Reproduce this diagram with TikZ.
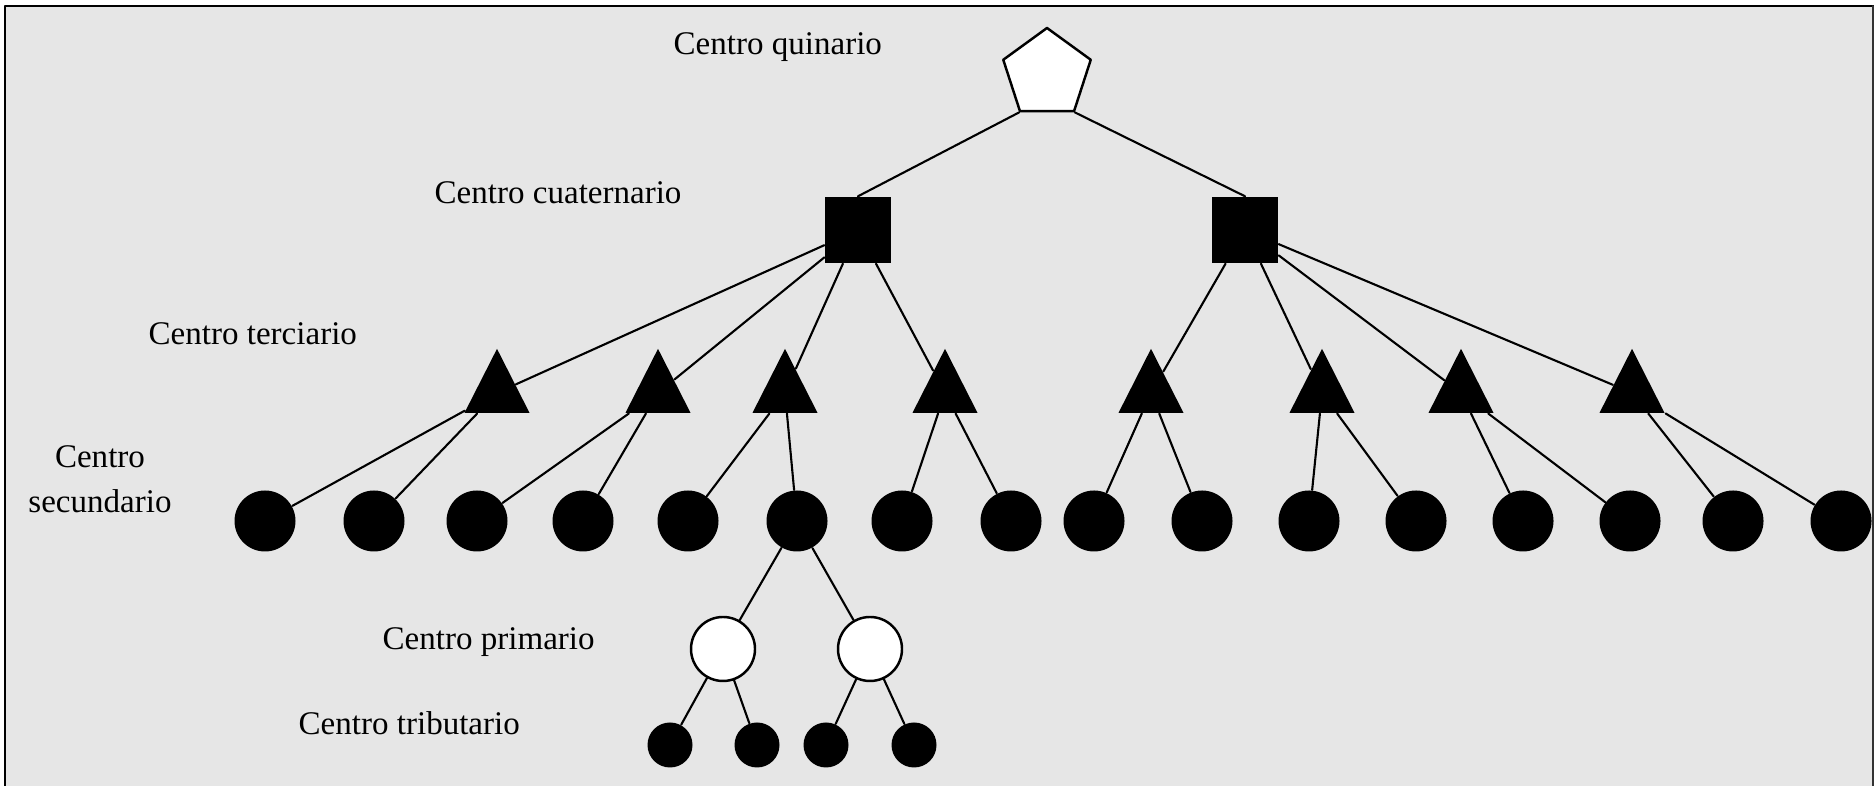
\documentclass[tikz,border=0pt]{standalone}
\usepackage{fontspec}
\setmainfont{Liberation Serif}
\usetikzlibrary{shapes.geometric}
\definecolor{fondo}{RGB}{230,230,230}

\begin{document}
\begin{tikzpicture}[line cap=round,line join=round,x=1.0cm,y=1.0cm,
  etiq/.style={inner sep=0pt,font=\fontsize{9.4}{12.7}\selectfont},
  quin/.style={regular polygon,regular polygon sides=5,draw,fill=white,line width=0.7pt,minimum size=0.92cm,inner sep=0pt},
  cuat/.style={rectangle,fill=black,minimum size=0.66cm,inner sep=0pt},
  terc/.style={isosceles triangle,isosceles triangle stretches,shape border rotate=90,fill=black,minimum width=0.65cm,minimum height=0.64cm,inner sep=0pt,anchor=apex},
  secu/.style={circle,fill=black,minimum size=0.61cm,inner sep=0pt},
  prim/.style={circle,draw,fill=white,line width=0.7pt,minimum size=0.64cm,inner sep=0pt},
  trib/.style={circle,fill=black,minimum size=0.45cm,inner sep=0pt},
  enl/.style={line width=0.6pt}]
\useasboundingbox (0,0) rectangle (18.74,7.86);
\fill[fondo] (0.05,0) rectangle (18.74,7.80);
\draw[line width=0.7pt] (0.05,0) -- (0.05,7.80) -- (18.74,7.80);
\draw[line width=0.5pt,black!80] (18.73,7.80) -- (18.73,0);
% etiquetas
\draw (6.73,7.31) node[etiq,anchor=base west] (lquin) {Centro quinario};
\draw (4.34,5.82) node[etiq,anchor=base west] (lcuat) {Centro cuaternario};
\draw (1.48,4.41) node[etiq,anchor=base west] (lterc) {Centro terciario};
\draw (1.00,3.41) node[etiq,anchor=north,align=center] (lsecu) {Centro\\secundario};
\draw (3.82,1.36) node[etiq,anchor=base west] (lprim) {Centro primario};
\draw (2.98,0.51) node[etiq,anchor=base west] (ltrib) {Centro tributario};
% centros
\node[quin] (quin) at (10.47,7.12) {};
\node[cuat] (cuaL) at (8.58,5.56) {};
\node[cuat] (cuaR) at (12.45,5.56) {};
\node[terc] (t1) at (4.97,4.39) {};
\node[terc] (t2) at (6.58,4.39) {};
\node[terc] (t3) at (7.85,4.39) {};
\node[terc] (t4) at (9.45,4.39) {};
\node[terc] (t5) at (11.51,4.39) {};
\node[terc] (t6) at (13.22,4.39) {};
\node[terc] (t7) at (14.61,4.39) {};
\node[terc] (t8) at (16.32,4.39) {};
\node[secu] (s1) at (2.65,2.65) {};
\node[secu] (s2) at (3.74,2.65) {};
\node[secu] (s3) at (4.77,2.65) {};
\node[secu] (s4) at (5.83,2.65) {};
\node[secu] (s5) at (6.88,2.65) {};
\node[secu] (s6) at (7.97,2.65) {};
\node[secu] (s7) at (9.02,2.65) {};
\node[secu] (s8) at (10.11,2.65) {};
\node[secu] (s9) at (10.94,2.65) {};
\node[secu] (s10) at (12.02,2.65) {};
\node[secu] (s11) at (13.09,2.65) {};
\node[secu] (s12) at (14.16,2.65) {};
\node[secu] (s13) at (15.23,2.65) {};
\node[secu] (s14) at (16.30,2.65) {};
\node[secu] (s15) at (17.33,2.65) {};
\node[secu] (s16) at (18.41,2.65) {};
\node[prim] (p1) at (7.23,1.37) {};
\node[prim] (p2) at (8.70,1.37) {};
\node[trib] (r1) at (6.70,0.41) {};
\node[trib] (r2) at (7.57,0.41) {};
\node[trib] (r3) at (8.26,0.41) {};
\node[trib] (r4) at (9.14,0.41) {};
% enlaces
\draw[enl] (quin.corner 3) -- (cuaL.north);
\draw[enl] (quin.corner 4) -- (cuaR.north);
\draw[enl] (cuaL) -- (t1);
\draw[enl] (cuaL) -- (t2);
\draw[enl] (cuaL) -- (t3);
\draw[enl] (cuaL) -- (t4);
\draw[enl] (cuaR) -- (t5);
\draw[enl] (cuaR) -- (t6);
\draw[enl] (cuaR) -- (t7);
\draw[enl] (cuaR) -- (t8);
\draw[enl] (t1) -- (s1);
\draw[enl] (t1) -- (s2);
\draw[enl] (t2) -- (s3);
\draw[enl] (t2) -- (s4);
\draw[enl] (t3) -- (s5);
\draw[enl] (t3) -- (s6);
\draw[enl] (t4) -- (s7);
\draw[enl] (t4) -- (s8);
\draw[enl] (t5) -- (s9);
\draw[enl] (t5) -- (s10);
\draw[enl] (t6) -- (s11);
\draw[enl] (t6) -- (s12);
\draw[enl] (t7) -- (s13);
\draw[enl] (t7) -- (s14);
\draw[enl] (t8) -- (s15);
\draw[enl] (t8) -- (s16);
\draw[enl] (s6) -- (p1);
\draw[enl] (s6) -- (p2);
\draw[enl] (p1) -- (r1);
\draw[enl] (p1) -- (r2);
\draw[enl] (p2) -- (r3);
\draw[enl] (p2) -- (r4);
\end{tikzpicture}
\end{document}
